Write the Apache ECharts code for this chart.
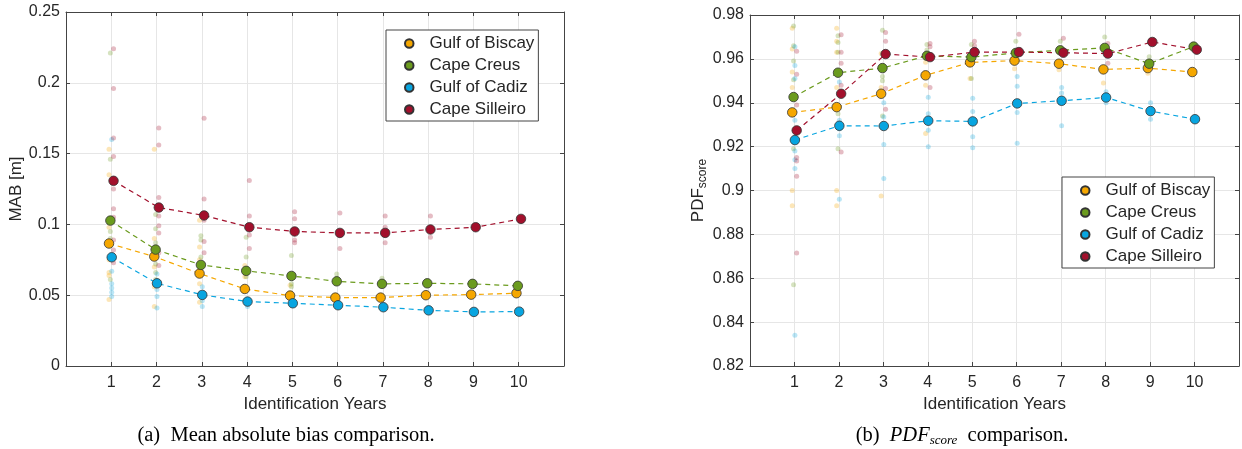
<!DOCTYPE html>
<html>
<head>
<meta charset="utf-8">
<script src="https://cdn.jsdelivr.net/npm/echarts@6/dist/echarts.min.js"></script>
<style>
html, body { margin: 0; padding: 0; background: #fff; }
#chartBox { width: 1242px; height: 449px; }
</style>
</head>
<body>
<div id="chartBox"></div>
<script>
// x axis: identification years
const years = [1, 2, 3, 4, 5, 6, 7, 8, 9, 10];
const siteNames = ['Gulf of Biscay', 'Cape Creus', 'Gulf of Cadiz', 'Cape Silleiro'];

// (a) mean absolute bias, mean per year
const mabBiscay = [0.0865, 0.0773, 0.0653, 0.0544, 0.0497, 0.0483, 0.0483, 0.0500, 0.0504, 0.0514];
const mabCreus = [0.1027, 0.0822, 0.0714, 0.0672, 0.0636, 0.0598, 0.0580, 0.0584, 0.0580, 0.0566];
const mabCadiz = [0.0768, 0.0584, 0.0502, 0.0455, 0.0443, 0.0429, 0.0415, 0.0393, 0.0382, 0.0384];
const mabSilleiro = [0.1308, 0.1119, 0.1063, 0.0980, 0.0950, 0.0940, 0.0940, 0.0964, 0.0980, 0.1039];

// (a) single runs (faint points), one list per year
const mabBiscayAll = [
  [0.153, 0.135, 0.098, 0.075, 0.066, 0.064, 0.047],
  [0.153, 0.09, 0.07, 0.056, 0.042],
  [0.103, 0.084, 0.075, 0.058, 0.045],
  [0.071, 0.063, 0.046],
  [0.057, 0.052],
  [0.05],
  [0.049],
  [0.051],
  [],
  []
];
const mabCreusAll = [
  [0.221, 0.146, 0.095, 0.09, 0.085, 0.061],
  [0.107, 0.097, 0.087, 0.072, 0.066, 0.061],
  [0.092, 0.089, 0.077, 0.065],
  [0.091, 0.077, 0.068, 0.063],
  [0.078, 0.058, 0.056],
  [0.065, 0.062],
  [0.062],
  [0.06],
  [],
  []
];
const mabCadizAll = [
  [0.16, 0.067, 0.058, 0.055, 0.052, 0.049],
  [0.065, 0.054, 0.049, 0.041],
  [0.056, 0.046, 0.042],
  [0.047, 0.044, 0.042],
  [0.047, 0.043],
  [0.044],
  [0.041],
  [],
  [],
  []
];
const mabSilleiroAll = [
  [0.224, 0.196, 0.161, 0.148, 0.125, 0.111, 0.105, 0.089, 0.082, 0.073],
  [0.168, 0.156, 0.119, 0.106, 0.099, 0.094, 0.08, 0.071],
  [0.175, 0.118, 0.103, 0.088, 0.08],
  [0.131, 0.106, 0.0925, 0.083],
  [0.109, 0.104, 0.089, 0.087],
  [0.108, 0.092, 0.083],
  [0.106, 0.098, 0.087],
  [0.106, 0.091],
  [0.097],
  []
];

// (b) PDF score, mean per year
const pdfBiscay = [0.9356, 0.9380, 0.9441, 0.9525, 0.9584, 0.9592, 0.9578, 0.9552, 0.9558, 0.9540];
const pdfCreus = [0.9426, 0.9537, 0.9558, 0.9614, 0.9608, 0.9627, 0.9639, 0.9650, 0.9578, 0.9656];
const pdfCadiz = [0.9230, 0.9295, 0.9294, 0.9318, 0.9315, 0.9397, 0.9409, 0.9424, 0.9362, 0.9325];
const pdfSilleiro = [0.9274, 0.9441, 0.9622, 0.9608, 0.9631, 0.9631, 0.9628, 0.9624, 0.9677, 0.9642];

// (b) single runs
const pdfBiscayAll = [
  [0.974, 0.9645, 0.954, 0.947, 0.9, 0.893],
  [0.974, 0.968, 0.963, 0.947, 0.9, 0.893],
  [0.9625, 0.947, 0.943, 0.8975],
  [0.9585, 0.948, 0.926],
  [0.951],
  [0.9555],
  [0.955],
  [0.949],
  [0.9535],
  []
];
const pdfCreusAll = [
  [0.975, 0.966, 0.959, 0.9505, 0.923, 0.919, 0.857],
  [0.9705, 0.9675, 0.963, 0.935, 0.919],
  [0.973, 0.952, 0.95, 0.934],
  [0.9665, 0.964, 0.961],
  [0.9665, 0.951],
  [0.968],
  [0.968],
  [0.97],
  [0.961],
  []
];
const pdfCadizAll = [
  [0.9655, 0.957, 0.951, 0.932, 0.918, 0.914, 0.91, 0.834],
  [0.9495, 0.932, 0.928, 0.925, 0.896],
  [0.94, 0.9335, 0.921, 0.9055],
  [0.9425, 0.935, 0.9275, 0.92],
  [0.942, 0.936, 0.9245, 0.9195],
  [0.952, 0.9475, 0.9355, 0.9215],
  [0.947, 0.9445, 0.9295],
  [0.945, 0.94],
  [0.94, 0.9325],
  []
];
const pdfSilleiroAll = [
  [0.9635, 0.953, 0.939, 0.915, 0.9135, 0.9065, 0.8715],
  [0.971, 0.963, 0.958, 0.948, 0.9175],
  [0.972, 0.968, 0.9465, 0.937],
  [0.967, 0.9655, 0.947],
  [0.968, 0.966],
  [0.9712],
  [0.9694],
  [0.967, 0.958],
  [],
  []
];

const colors = ['#F5A700', '#6B9B1E', '#08A5E0', '#A2102C'];
const xShift = [-0.05, -0.02, 0.01, 0.05]; // small horizontal offset per site
const axisColor = '#444';
const textColor = '#262626';

function meanSeries(k, vals, ax) {
  return {
    name: siteNames[k],
    type: 'line',
    xAxisIndex: ax,
    yAxisIndex: ax,
    data: years.map((y, i) => [y + xShift[k], vals[i]]),
    symbol: 'circle',
    symbolSize: 9.5,
    itemStyle: { color: colors[k], borderColor: '#333', borderWidth: 0.8 },
    lineStyle: { color: colors[k], width: 1.2, type: [5, 4] },
    emphasis: { disabled: true },
    z: 3
  };
}

function cloudSeries(k, lists, ax) {
  const pts = [];
  lists.forEach((arr, i) => arr.forEach(v => pts.push([years[i] + xShift[k], v])));
  return {
    name: siteNames[k] + ' runs',
    type: 'scatter',
    xAxisIndex: ax,
    yAxisIndex: ax,
    data: pts,
    symbolSize: 5,
    itemStyle: { color: colors[k], opacity: 0.28 },
    silent: true,
    z: 2
  };
}

function xBottom(grid) {
  return {
    type: 'value', gridIndex: grid, min: 0, max: 11, interval: 1,
    axisLine: { show: true, onZero: false, lineStyle: { color: axisColor } },
    axisTick: { inside: true, length: 4, lineStyle: { color: axisColor } },
    axisLabel: {
      fontSize: 16, color: textColor, margin: 9,
      formatter: v => (v >= 1 && v <= 10 ? String(v) : '')
    },
    splitLine: { show: true, lineStyle: { color: '#e6e6e6' } },
    name: 'Identification Years', nameLocation: 'middle', nameGap: 30,
    nameTextStyle: { fontSize: 17, color: textColor }
  };
}
function xTop(grid) {
  return {
    type: 'value', gridIndex: grid, position: 'top', min: 0, max: 11, interval: 1,
    axisLine: { show: true, onZero: false, lineStyle: { color: axisColor } },
    axisTick: { inside: true, length: 4, lineStyle: { color: axisColor } },
    axisLabel: { show: false },
    splitLine: { show: false }
  };
}
function yLeft(grid, min, max, step, name, gap) {
  return {
    type: 'value', gridIndex: grid, min: min, max: max, interval: step,
    axisLine: { show: true, onZero: false, lineStyle: { color: axisColor } },
    axisTick: { show: true, inside: true, length: 4, lineStyle: { color: axisColor } },
    axisLabel: {
      fontSize: 16, color: textColor, margin: 6,
      formatter: v => (Math.abs(v) < 1e-9 ? '0' : String(+v.toFixed(2)))
    },
    splitLine: { show: true, lineStyle: { color: '#e6e6e6' } },
    name: name, nameLocation: 'middle', nameRotate: 90, nameGap: gap,
    nameTextStyle: {
      fontSize: 17, color: textColor,
      rich: {
        p: { fontSize: 17, color: textColor },
        s: { fontSize: 12, color: textColor, padding: [9, 0, 0, 0] }
      }
    }
  };
}
function yRight(grid, min, max, step) {
  return {
    type: 'value', gridIndex: grid, position: 'right', min: min, max: max, interval: step,
    axisLine: { show: true, onZero: false, lineStyle: { color: axisColor } },
    axisTick: { show: true, inside: true, length: 4, lineStyle: { color: axisColor } },
    axisLabel: { show: false },
    splitLine: { show: false }
  };
}
function legendBox(left, top) {
  return {
    data: siteNames, orient: 'vertical', left: left, top: top,
    icon: 'circle', itemWidth: 8.5, itemHeight: 8.5, itemGap: 5,
    padding: [5, 4, 3, 18],
    backgroundColor: '#fff', borderColor: axisColor, borderWidth: 1,
    textStyle: { fontSize: 17, color: textColor, lineHeight: 16.5, padding: [0, 0, 0, 11] },
    selectedMode: false
  };
}

const chart = echarts.init(document.getElementById('chartBox'));

const option = {
  animation: false,
  backgroundColor: '#fff',
  textStyle: { fontFamily: '"Liberation Sans", Arial, sans-serif' },
  grid: [
    { left: 66, top: 12, width: 498, height: 354 },
    { left: 750, top: 15, width: 490, height: 351 }
  ],
  xAxis: [xBottom(0), xTop(0), xBottom(1), xTop(1)],
  yAxis: [
    yLeft(0, 0, 0.25, 0.05, 'MAB [m]', 40),
    yRight(0, 0, 0.25, 0.05),
    yLeft(1, 0.82, 0.98, 0.02, '{p|PDF}{s|score}', 40),
    yRight(1, 0.82, 0.98, 0.02)
  ],
  legend: [legendBox(386, 30), legendBox(1062, 177)],
  series: [
    cloudSeries(0, mabBiscayAll, 0), cloudSeries(1, mabCreusAll, 0),
    cloudSeries(2, mabCadizAll, 0), cloudSeries(3, mabSilleiroAll, 0),
    meanSeries(0, mabBiscay, 0), meanSeries(1, mabCreus, 0),
    meanSeries(2, mabCadiz, 0), meanSeries(3, mabSilleiro, 0),
    cloudSeries(0, pdfBiscayAll, 2), cloudSeries(1, pdfCreusAll, 2),
    cloudSeries(2, pdfCadizAll, 2), cloudSeries(3, pdfSilleiroAll, 2),
    meanSeries(0, pdfBiscay, 2), meanSeries(1, pdfCreus, 2),
    meanSeries(2, pdfCadiz, 2), meanSeries(3, pdfSilleiro, 2)
  ],
  graphic: [
    {
      type: 'text', x: 286, y: 436,
      style: {
        text: '(a)  Mean absolute bias comparison.',
        fontFamily: '"Liberation Serif", "Times New Roman", serif', fontSize: 20.5,
        fill: '#000', align: 'center', verticalAlign: 'middle'
      }
    },
    {
      type: 'text', x: 962, y: 436,
      style: {
        text: '(b)  {i|PDF}{s|score}  comparison.',
        fontFamily: '"Liberation Serif", "Times New Roman", serif', fontSize: 20.5,
        fill: '#000', align: 'center', verticalAlign: 'middle',
        rich: {
          i: { fontFamily: '"Liberation Serif", serif', fontStyle: 'italic', fontSize: 20.5, fill: '#000' },
          s: { fontFamily: '"Liberation Serif", serif', fontStyle: 'italic', fontSize: 13, fill: '#000', padding: [10, 0, 0, 0] }
        }
      }
    }
  ]
};

chart.setOption(option);
</script>
</body>
</html>
